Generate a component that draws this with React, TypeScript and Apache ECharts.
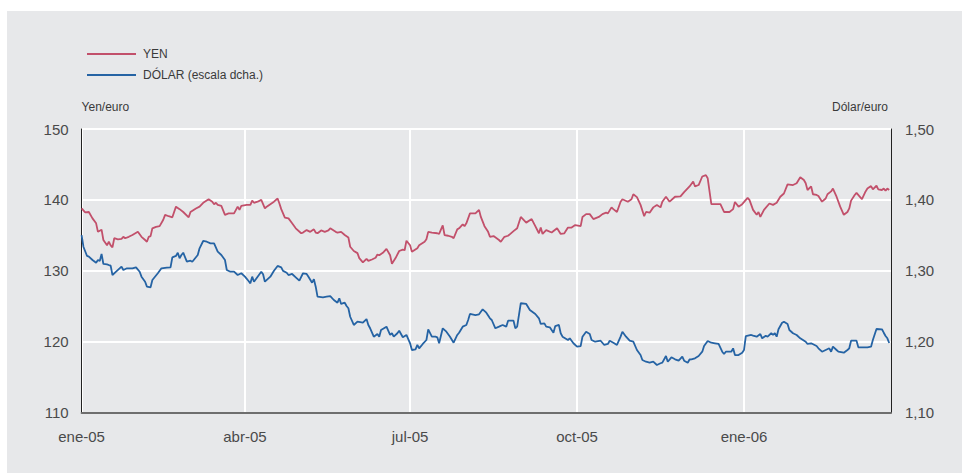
import React, { useEffect, useRef } from "react";
import * as echarts from "echarts";

// Days counted from 1 Jan 2005
const xTickDays = [0, 90, 181, 273, 365];
const xTickLabels = ["ene-05", "abr-05", "jul-05", "oct-05", "ene-06"];
const leftTicks = [110, 120, 130, 140, 150];
const rightTicks = [1.1, 1.2, 1.3, 1.4, 1.5];
const seriesNames = ["YEN", "DÓLAR (escala dcha.)"];

const yen: [number, number][] = [
  [0, 138.8], [2, 138.25], [4, 138.3], [6, 137.4], [8, 136.7], [9, 135.5], [11, 135.8], [12, 134.35],
  [14, 133.6], [15, 134.1], [16, 133.6], [17, 133.3], [18, 134.6], [20, 134.45], [22, 134.5], [23, 134.8],
  [24, 134.6], [26, 134.8], [28, 135.05], [31, 135.5], [33, 134.8], [35, 134.35], [36, 134.1], [37, 134.8],
  [38, 134.9], [39, 136.0], [41, 136.2], [43, 136.3], [45, 137.2], [46, 137.9], [48, 137.7], [50, 137.55],
  [52, 139.05], [54, 138.7], [56, 138.3], [59, 137.55], [60, 138.3], [63, 138.8], [65, 139.05], [67, 139.6],
  [70, 140.1], [72, 139.75], [73, 139.4], [74, 139.6], [75, 139.3], [77, 139.15], [79, 137.9], [81, 138.1],
  [84, 138.1], [86, 139.05], [87, 138.6], [88, 139.15], [91, 139.3], [93, 139.3], [94, 139.9], [95, 139.6],
  [97, 139.75], [99, 140.0], [101, 138.8], [102, 139.05], [104, 139.4], [106, 139.75], [108, 140.2], [109, 139.5],
  [110, 138.7], [112, 137.5], [114, 137.4], [116, 136.7], [118, 136.0], [121, 135.3], [122, 135.4], [124, 135.75],
  [126, 135.5], [128, 135.85], [129, 135.4], [130, 135.3], [132, 135.7], [134, 135.5], [136, 135.7], [137, 136.0],
  [140, 135.5], [141, 135.4], [143, 135.5], [145, 135.05], [147, 134.7], [148, 133.4], [150, 132.8], [152, 132.5],
  [153, 131.8], [155, 131.2], [157, 131.7], [158, 131.4], [160, 131.6], [162, 131.85], [163, 132.3], [164, 132.2],
  [166, 132.55], [168, 133.1], [170, 132.2], [171, 131.0], [173, 131.8], [175, 132.8], [177, 133.0], [178, 132.9],
  [179, 134.25], [181, 133.6], [182, 132.7], [185, 133.2], [186, 133.6], [189, 134.1], [190, 134.45], [191, 135.5],
  [193, 135.4], [196, 135.3], [197, 135.2], [199, 136.4], [200, 135.05], [202, 134.95], [204, 134.8], [205, 134.6],
  [207, 135.85], [208, 136.0], [210, 136.55], [211, 136.3], [212, 136.7], [214, 138.1], [217, 138.1], [219, 138.6],
  [220, 137.6], [222, 136.3], [224, 135.5], [225, 134.8], [227, 134.9], [230, 134.35], [231, 134.1], [233, 134.8],
  [235, 134.95], [238, 135.6], [240, 136.0], [242, 137.6], [245, 136.8], [248, 137.3], [250, 136.3], [252, 135.3],
  [253, 136.1], [254, 135.2], [256, 135.75], [259, 135.4], [262, 136.0], [264, 135.2], [266, 135.3], [268, 136.1],
  [270, 136.1], [272, 136.45], [275, 136.3], [276, 137.6], [278, 138.0], [280, 138.0], [282, 137.3], [285, 137.6],
  [287, 138.0], [289, 138.2], [290, 138.1], [292, 138.95], [293, 138.7], [295, 138.3], [297, 139.75], [298, 140.1],
  [301, 139.75], [303, 140.1], [304, 140.8], [306, 140.4], [308, 139.3], [310, 137.7], [311, 138.3], [313, 138.2],
  [315, 138.95], [317, 139.3], [319, 138.95], [320, 139.75], [322, 140.45], [324, 139.75], [327, 140.45], [330, 140.5],
  [332, 141.1], [335, 141.9], [337, 142.6], [338, 141.9], [340, 142.1], [342, 143.3], [344, 143.5], [345, 143.05],
  [347, 139.4], [349, 139.4], [352, 139.4], [354, 138.3], [357, 138.3], [359, 138.7], [360, 139.7], [362, 139.05],
  [364, 139.4], [367, 140.3], [368, 140.0], [370, 138.6], [372, 137.9], [373, 138.3], [374, 137.6], [376, 138.6],
  [379, 139.5], [381, 139.3], [383, 139.6], [385, 140.45], [387, 140.9], [389, 142.2], [392, 142.1], [394, 142.35],
  [396, 143.2], [398, 142.8], [399, 142.35], [400, 141.4], [402, 141.9], [403, 140.8], [405, 140.7], [406, 140.55],
  [408, 139.75], [410, 140.2], [411, 140.8], [413, 141.2], [414, 141.6], [416, 140.45], [418, 139.05], [420, 137.9],
  [422, 138.3], [423, 138.8], [424, 139.9], [426, 140.7], [427, 141.0], [429, 140.4], [430, 140.1], [432, 141.2],
  [433, 141.6], [435, 141.95], [436, 141.5], [438, 142.0], [439, 141.5], [441, 141.4], [442, 141.6], [443, 141.3],
  [444, 141.6], [445, 141.4],
];

const usd: [number, number][] = [
  [0, 1.3505], [1, 1.334], [3, 1.321], [4, 1.32], [6, 1.3153], [8, 1.3115], [9, 1.3153], [10, 1.3139],
  [11, 1.3238], [12, 1.3097], [14, 1.3092], [15, 1.3082], [16, 1.3073], [17, 1.2941], [19, 1.2988], [22, 1.3059],
  [23, 1.3012], [25, 1.3036], [28, 1.3036], [30, 1.305], [32, 1.2988], [33, 1.2918], [35, 1.2847], [36, 1.2777],
  [38, 1.2768], [39, 1.2871], [42, 1.2966], [44, 1.3036], [47, 1.3045], [49, 1.305], [50, 1.3191], [52, 1.321],
  [53, 1.3256], [54, 1.3177], [55, 1.3224], [56, 1.3256], [58, 1.3129], [60, 1.3143], [61, 1.3129], [64, 1.3224],
  [65, 1.3318], [67, 1.3421], [69, 1.3411], [71, 1.3388], [73, 1.3388], [75, 1.327], [77, 1.3224], [79, 1.3153],
  [80, 1.3012], [82, 1.2988], [84, 1.2988], [86, 1.2941], [88, 1.2966], [90, 1.2918], [92, 1.2857], [93, 1.2824],
  [94, 1.2918], [95, 1.2847], [97, 1.2918], [99, 1.2988], [100, 1.2951], [101, 1.2847], [104, 1.2918], [106, 1.3002],
  [108, 1.3069], [110, 1.305], [111, 1.3], [113, 1.2974], [114, 1.2941], [116, 1.2956], [118, 1.2909], [120, 1.2861],
  [122, 1.2966], [124, 1.2956], [125, 1.2918], [127, 1.2833], [128, 1.2881], [129, 1.2777], [130, 1.2636], [133, 1.2627],
  [135, 1.2636], [137, 1.2645], [139, 1.2589], [141, 1.2551], [142, 1.2613], [143, 1.2533], [145, 1.2551], [146, 1.2504],
  [147, 1.2472], [148, 1.2353], [150, 1.2237], [152, 1.2283], [155, 1.2269], [157, 1.2321], [158, 1.2237], [159, 1.219],
  [161, 1.2072], [163, 1.211], [164, 1.2072], [165, 1.2166], [168, 1.2213], [170, 1.2096], [171, 1.212], [172, 1.2072],
  [174, 1.212], [175, 1.2156], [177, 1.2063], [179, 1.2096], [181, 1.1979], [182, 1.1884], [184, 1.1894], [185, 1.1955],
  [186, 1.1908], [188, 1.1969], [190, 1.2025], [191, 1.2176], [193, 1.2072], [195, 1.2072], [196, 1.2063], [197, 1.1979],
  [199, 1.219], [201, 1.2142], [203, 1.2072], [205, 1.1987], [207, 1.2096], [208, 1.2128], [210, 1.2213], [212, 1.2237],
  [213, 1.2307], [214, 1.2392], [217, 1.2377], [219, 1.2387], [221, 1.2458], [223, 1.241], [225, 1.2331], [226, 1.2307],
  [228, 1.219], [230, 1.2213], [232, 1.2237], [234, 1.2213], [235, 1.2297], [238, 1.2297], [239, 1.219], [240, 1.2213],
  [242, 1.2543], [245, 1.2533], [247, 1.2448], [250, 1.2392], [252, 1.2331], [253, 1.2251], [255, 1.226], [256, 1.2213],
  [258, 1.2204], [260, 1.2128], [261, 1.2222], [263, 1.2237], [264, 1.212], [265, 1.2072], [268, 1.2025], [269, 1.2049],
  [271, 1.1979], [273, 1.1931], [275, 1.194], [276, 1.2072], [278, 1.2142], [280, 1.211], [281, 1.2025], [283, 1.2001],
  [286, 1.2015], [288, 1.1955], [290, 1.1969], [291, 1.2015], [293, 1.1987], [295, 1.1955], [297, 1.2072], [298, 1.2142],
  [300, 1.2072], [302, 1.2015], [304, 1.2001], [306, 1.1884], [308, 1.1813], [309, 1.1743], [311, 1.1719], [313, 1.1705],
  [315, 1.1719], [317, 1.1673], [319, 1.1697], [320, 1.1705], [322, 1.18], [323, 1.1719], [325, 1.1781], [327, 1.1753],
  [329, 1.1733], [331, 1.179], [332, 1.1733], [334, 1.1705], [335, 1.175], [336, 1.1753], [338, 1.1767], [340, 1.18],
  [342, 1.186], [343, 1.194], [345, 1.2011], [347, 1.1987], [349, 1.1979], [351, 1.1969], [353, 1.186], [354, 1.1828],
  [355, 1.186], [358, 1.186], [359, 1.1908], [360, 1.1813], [362, 1.1813], [364, 1.1846], [365, 1.1884], [366, 1.2081],
  [369, 1.2096], [370, 1.2086], [372, 1.2072], [374, 1.211], [375, 1.2049], [377, 1.2086], [378, 1.2072], [380, 1.212],
  [381, 1.2096], [382, 1.212], [383, 1.2072], [384, 1.2176], [386, 1.2269], [387, 1.2283], [389, 1.2251], [390, 1.2166],
  [392, 1.212], [394, 1.2096], [396, 1.2049], [399, 1.2001], [400, 1.1969], [402, 1.1979], [405, 1.194], [406, 1.1908],
  [408, 1.186], [410, 1.1884], [412, 1.1908], [413, 1.186], [414, 1.1931], [416, 1.1884], [417, 1.186], [420, 1.1846],
  [422, 1.1884], [423, 1.1908], [424, 1.2015], [427, 1.2015], [428, 1.1922], [430, 1.1922], [433, 1.1922], [435, 1.1931],
  [436, 1.2025], [438, 1.218], [441, 1.2176], [442, 1.2128], [443, 1.2081], [444, 1.2049], [445, 1.1983],
];

const X_MAX = 446;
const RED = "#c2506b";
const BLUE = "#2563a4";
const FONT = "'Liberation Sans', Arial, sans-serif";

export default function App() {
  const ref = useRef<HTMLDivElement>(null);
  useEffect(() => {
    if (!ref.current) return;
    const chart = echarts.init(ref.current, null, { renderer: "svg" });
    chart.setOption({
      animation: false,
      backgroundColor: "#ffffff",
      textStyle: { fontFamily: FONT },
      graphic: [
        {
          type: "rect",
          z: -10,
          silent: true,
          shape: { x: 7, y: 11, width: 962 - 7, height: 473 - 11 },
          style: { fill: "#e7e8ea" },
        },
      ],
      legend: {
        orient: "vertical",
        left: 87,
        top: 47,
        padding: 0,
        itemWidth: 49,
        itemHeight: 2,
        itemGap: 7,
        icon: "rect",
        textStyle: { fontSize: 12, color: "#3a3a3a", fontFamily: FONT, lineHeight: 14, padding: [0, 0, 0, 2] },
        data: seriesNames,
      },
      grid: { left: 81.6, right: 71, top: 129, bottom: 60.3, containLabel: false },
      xAxis: {
        type: "value",
        min: 0,
        max: X_MAX,
        axisLine: { show: true, onZero: false, lineStyle: { color: "#6e6e6e", width: 2 } },
        axisTick: { show: false, customValues: xTickDays },
        axisLabel: {
          customValues: xTickDays,
          margin: 16,
          fontSize: 15,
          color: "#4a4a4a",
          fontFamily: FONT,
          formatter: (v: number) => {
            const i = xTickDays.indexOf(Math.round(v));
            return i >= 0 ? xTickLabels[i] : "";
          },
        },
        splitLine: { show: true, lineStyle: { color: "#ffffff", width: 2 } },
      },
      yAxis: [
        {
          type: "value",
          min: leftTicks[0],
          max: leftTicks[leftTicks.length - 1],
          interval: 10,
          position: "left",
          name: "Yen/euro",
          nameLocation: "end",
          nameGap: 16,
          nameTextStyle: { align: "left", fontSize: 12, color: "#3a3a3a", fontFamily: FONT },
          axisLine: { show: true, lineStyle: { color: "#222222", width: 1 } },
          axisTick: { show: false },
          axisLabel: { margin: 13, fontSize: 15, color: "#4a4a4a", fontFamily: FONT },
          splitLine: { show: true, lineStyle: { color: "#ffffff", width: 2 } },
        },
        {
          type: "value",
          min: rightTicks[0],
          max: rightTicks[rightTicks.length - 1],
          interval: 0.1,
          position: "right",
          name: "Dólar/euro",
          nameLocation: "end",
          nameGap: 16,
          nameTextStyle: { align: "right", fontSize: 12, color: "#3a3a3a", fontFamily: FONT, padding: [0, 3, 0, 0] },
          axisLine: { show: true, lineStyle: { color: "#222222", width: 1 } },
          axisTick: { show: false },
          axisLabel: {
            margin: 14,
            fontSize: 15,
            color: "#4a4a4a",
            fontFamily: FONT,
            formatter: (v: number) => v.toFixed(2).replace(".", ","),
          },
          splitLine: { show: false },
        },
      ],
      series: [
        {
          name: seriesNames[0],
          type: "line",
          yAxisIndex: 0,
          data: yen,
          showSymbol: false,
          symbol: "none",
          lineStyle: { color: RED, width: 1.8 },
          itemStyle: { color: RED },
          z: 3,
        },
        {
          name: seriesNames[1],
          type: "line",
          yAxisIndex: 1,
          data: usd,
          showSymbol: false,
          symbol: "none",
          lineStyle: { color: BLUE, width: 1.8 },
          itemStyle: { color: BLUE },
          z: 3,
        },
      ],
    });
    return () => chart.dispose();
  }, []);
  return (
    <div
      ref={ref}
      style={{ position: "absolute", left: 0, top: 0, width: 962, height: 473 }}
    />
  );
}
